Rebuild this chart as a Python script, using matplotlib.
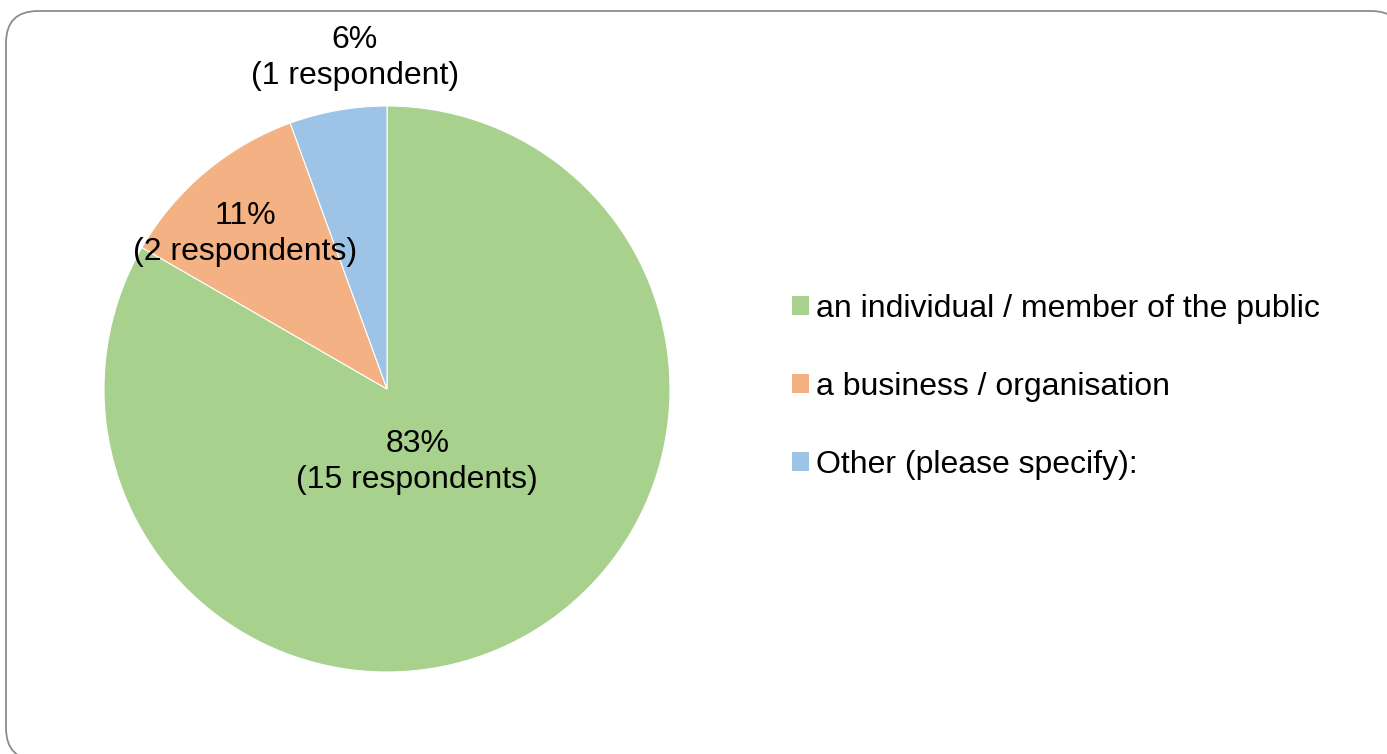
import numpy as np
import matplotlib
matplotlib.use("Agg")
import matplotlib.pyplot as plt
from matplotlib.patches import FancyBboxPatch, Patch
from matplotlib.transforms import IdentityTransform

categories = ["an individual / member of the public",
              "a business / organisation",
              "Other (please specify):"]
respondents = [15, 2, 1]
colors = ["#A9D18E", "#F4B183", "#9DC3E6"]

# label placement (distance from centre, angle tweak in degrees)
label_dist = [0.280, 0.743, 1.174]
label_turn = [-7.5, 2.45, -4.4]

plt.rcParams['font.family'] = ['Liberation Sans', 'DejaVu Sans']

W, H = 1387, 754
fig = plt.figure(figsize=(W / 100, H / 100), dpi=100)

# rounded outer frame (pixel coords)
frame = FancyBboxPatch((6, -6), W + 10, H - 11 + 6,
                       boxstyle="round,pad=0,rounding_size=32",
                       transform=IdentityTransform(),
                       facecolor="white", edgecolor="#8c8c8c", linewidth=1.3,
                       zorder=-10)
fig.patches.append(frame)

cx, cy, r = 387, 389, 283
ax = fig.add_axes([(cx - r) / W, (H - cy - r) / H, 2 * r / W, 2 * r / H])
ax.set_zorder(5)
wedges, _ = ax.pie(respondents, colors=colors, startangle=90, counterclock=False,
                   wedgeprops=dict(edgecolor="white", linewidth=0.8), radius=1)
ax.set_xlim(-1, 1)
ax.set_ylim(-1, 1)
ax.set_aspect("equal")
ax.axis("off")

total = sum(respondents)
for w, n, d, t in zip(wedges, respondents, label_dist, label_turn):
    mid = np.deg2rad((w.theta1 + w.theta2) / 2 + t)
    word = "respondent" if n == 1 else "respondents"
    pct = round(100 * n / total)
    ax.text(d * np.cos(mid), d * np.sin(mid), f"{pct}%\n({n} {word})",
            ha="center", va="center", fontsize=23, linespacing=1.27,
            color="black", clip_on=False)

handles = [Patch(facecolor=c, edgecolor="none") for c in colors]
leg = fig.legend(handles, categories, loc="center left",
                 bbox_to_anchor=(779 / W, (H - 387) / H), frameon=False,
                 fontsize=23, handlelength=0.55, handleheight=0.55,
                 handletextpad=0.2, labelspacing=1.5, borderaxespad=0)
leg.set_zorder(6)

fig.savefig("out.png", dpi=100)
